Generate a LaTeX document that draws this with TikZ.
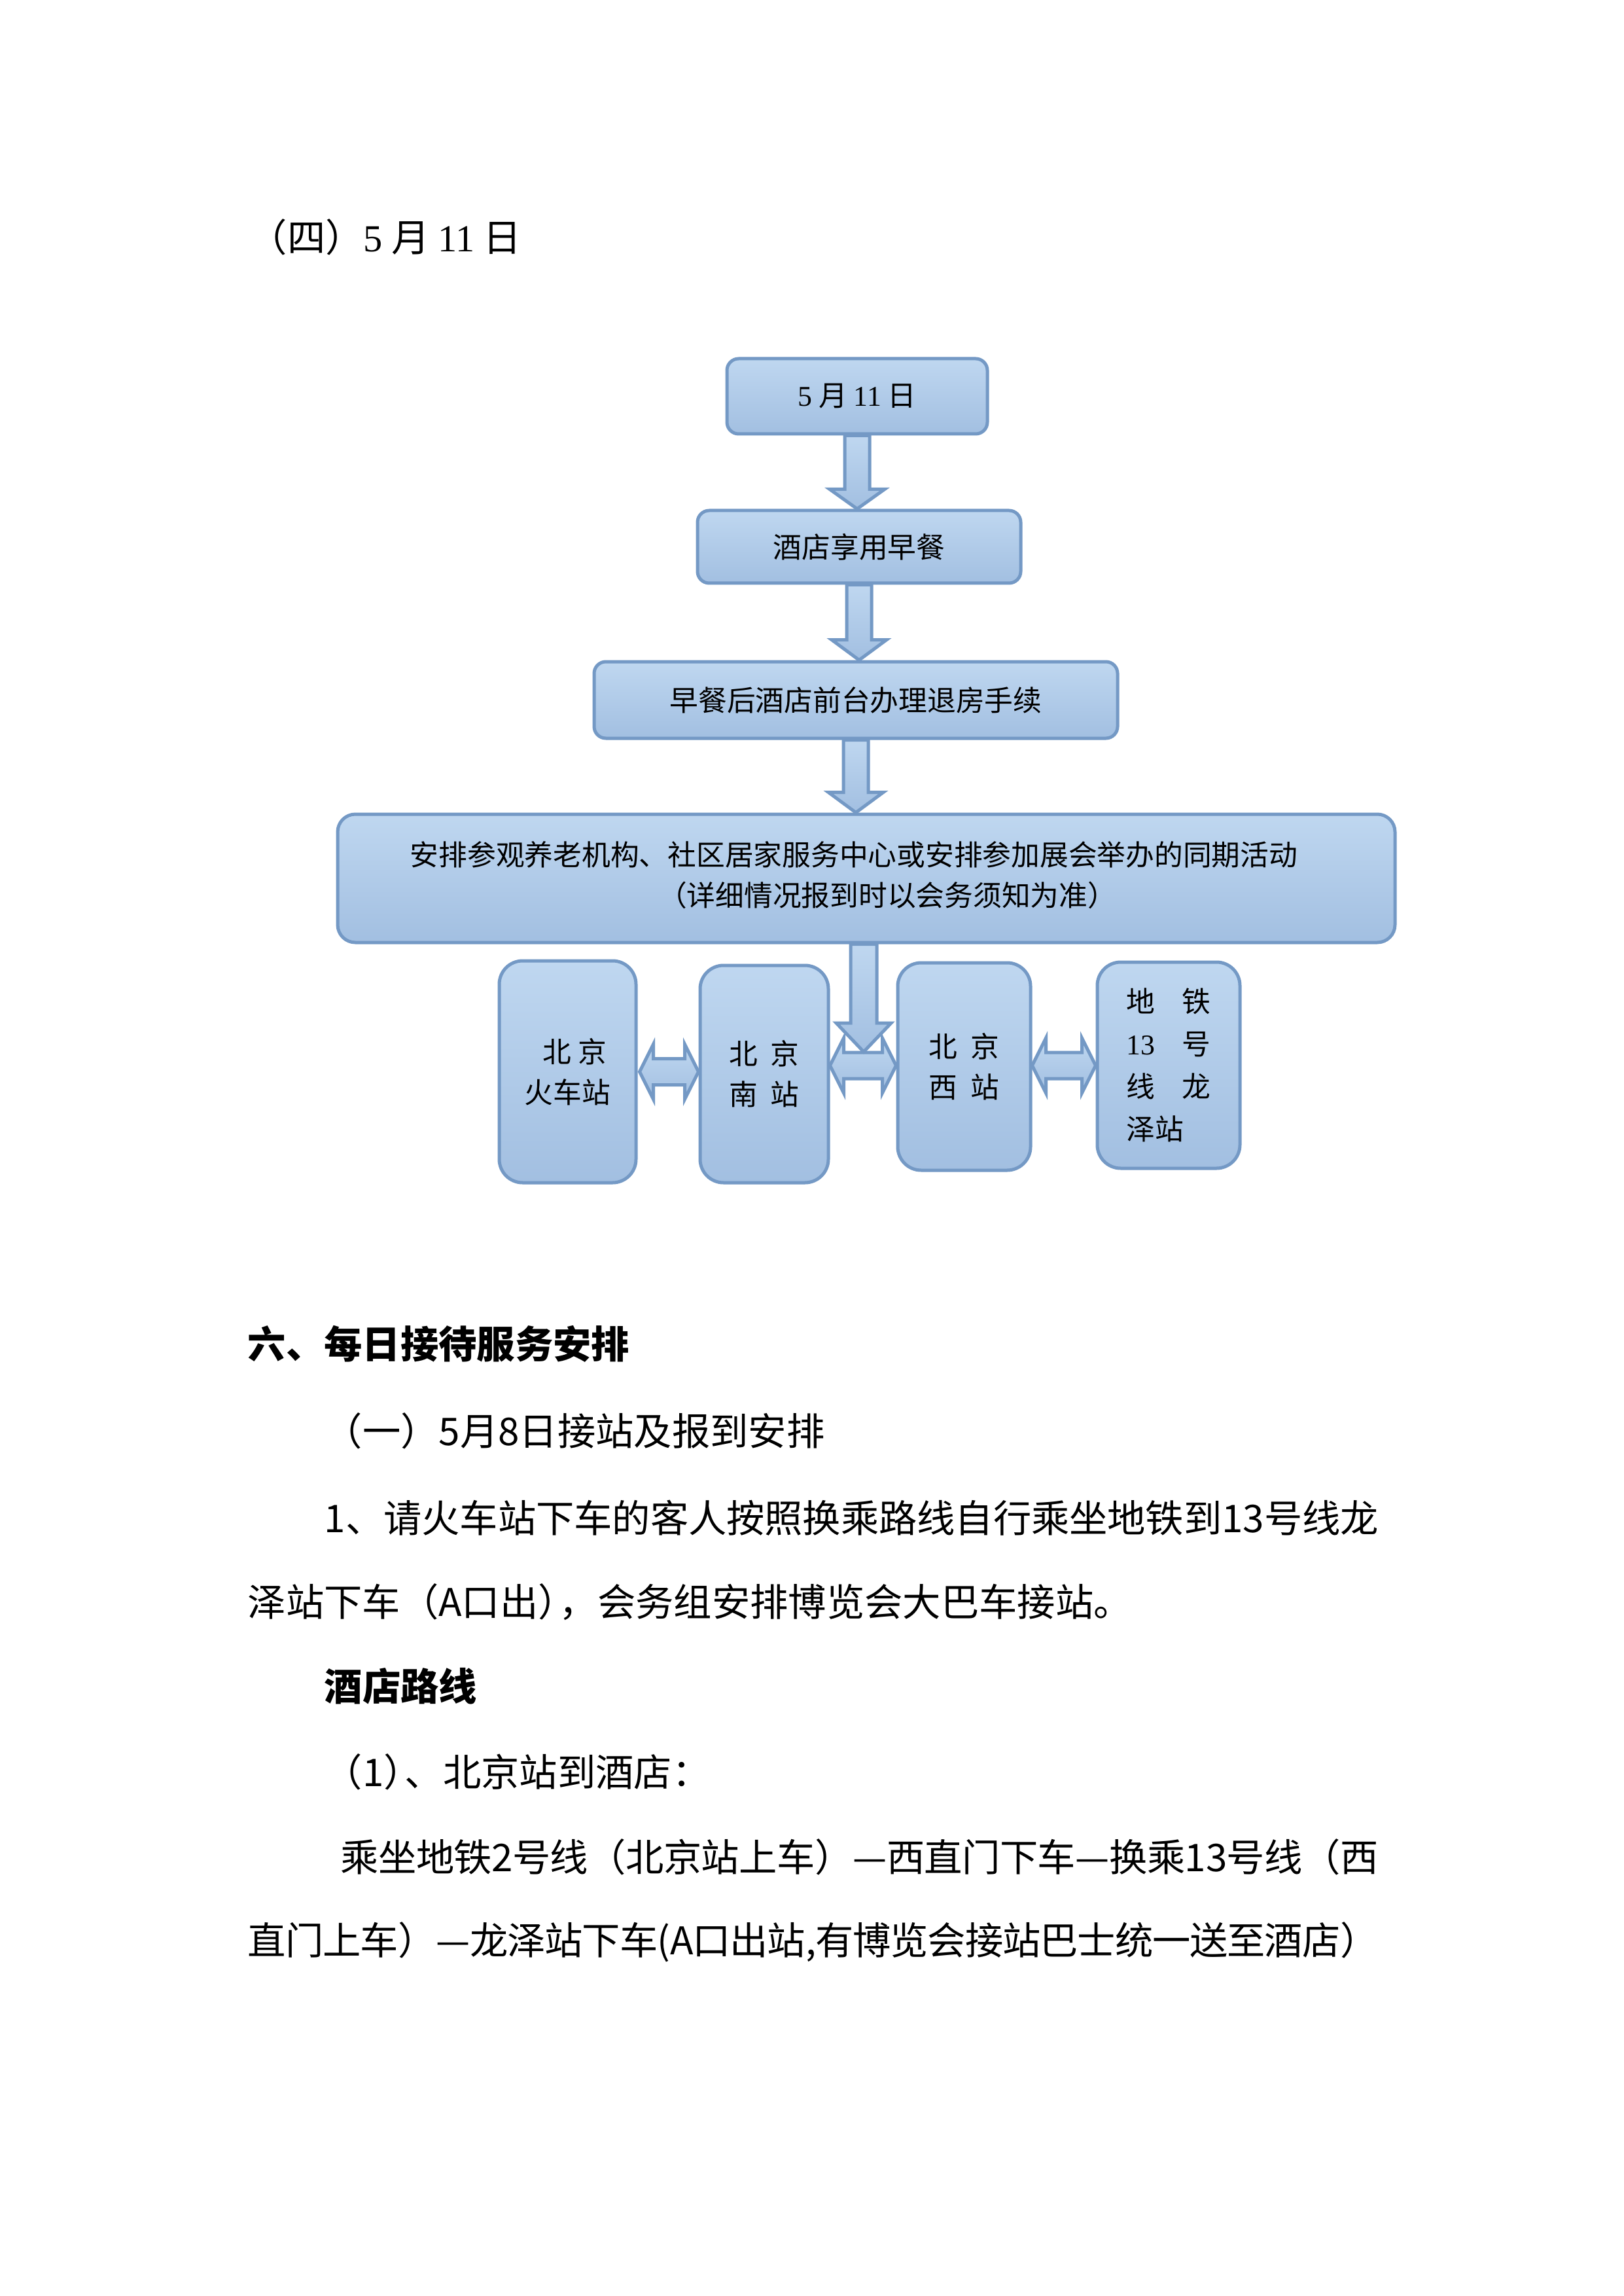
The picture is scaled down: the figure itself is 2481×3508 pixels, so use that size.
\documentclass[tikz,border=0pt]{standalone}
\usepackage{fontspec}
\setmainfont{Noto Sans CJK SC}
\newfontfamily\tnr{Liberation Serif}
\usetikzlibrary{calc}
\definecolor{bxtop}{RGB}{191,215,240}
\definecolor{bxbot}{RGB}{162,191,225}
\definecolor{bxline}{RGB}{116,153,197}
\newcommand\jline[2]{\parbox{\dimexpr 0.24pt*#1\relax}{\XeTeXlinebreaklocale "zh"\XeTeXlinebreakskip=0pt plus 3pt minus 1.5pt\parfillskip=0pt\noindent #2}}
\tikzset{
  fc/.style={draw=bxline, line width=1.2pt, top color=bxtop, bottom color=bxbot,
    rounded corners=#1, inner sep=0pt, align=center,
    font=\fontsize{10.5pt}{14.8pt}\selectfont},
  barrow/.style={draw=bxline, line width=1.2pt, top color=bxtop, bottom color=bxbot, line join=miter},
  body/.style={anchor=west, inner sep=0pt, font=\fontsize{14pt}{17pt}\selectfont},
  bodyb/.style={body, font=\fontsize{14pt}{17pt}\selectfont\bfseries},
  ftxt/.style={inner sep=0pt, font=\fontsize{10.5pt}{14.8pt}\selectfont}
}
\newcommand\blockdown[3]{%
  \draw[barrow] ($(#1)+(-19,0)$) -- ($(#2)+(-19,-#3)$) -- ($(#2)+(-42,-#3)$) -- (#2)
    -- ($(#2)+(42,-#3)$) -- ($(#2)+(19,-#3)$) -- ($(#1)+(19,0)$) -- cycle;}
\newcommand\dblarrow[2]{%
  \draw[barrow] (#1) -- ($(#1)+(21,-42)$) -- ($(#1)+(21,-20)$) -- ($(#2)+(-21,-20)$)
    -- ($(#2)+(-21,-42)$) -- (#2) -- ($(#2)+(-21,42)$) -- ($(#2)+(-21,20)$)
    -- ($(#1)+(21,20)$) -- ($(#1)+(21,42)$) -- cycle;}
\begin{document}
\begin{tikzpicture}[x=0.24pt,y=-0.24pt]
\fill[white] (0,0) rectangle (2481,3508);
\useasboundingbox (0,0) rectangle (2481,3508);

% title
\node[body] (title) at (380,362) {（四）{\tnr 5} 月 {\tnr 11} 日};

% flow boxes
\node[fc=4.3pt, minimum width=398*0.24pt, minimum height=115*0.24pt] (b1) at (1310,605.5) {{\tnr 5} 月 {\tnr 11} 日};
\node[fc=4.3pt, minimum width=494*0.24pt, minimum height=111*0.24pt] (b2) at (1313,835.5) {酒店享用早餐};
\node[fc=4.3pt, minimum width=800*0.24pt, minimum height=117*0.24pt] (b3) at (1308,1069.5) {早餐后酒店前台办理退房手续};
\node[fc=6.5pt, minimum width=1616*0.24pt, minimum height=196*0.24pt] (b4) at (1324,1342) {};
\node[ftxt, anchor=west] (t4a) at (626,1306) {安排参观养老机构、社区居家服务中心或安排参加展会举办的同期活动};
\node[ftxt] (t4b) at (1356,1368) {（详细情况报到时以会务须知为准）};

% station boxes
\node[fc=8.6pt, minimum width=209*0.24pt, minimum height=339*0.24pt] (sA) at (867.5,1637.5) {\hspace{0.5em}北\hspace{0.25em}京\\火车站};
\node[fc=8.6pt, minimum width=196*0.24pt, minimum height=332*0.24pt] (sB) at (1168,1641) {北\hspace{0.45em}京\\南\hspace{0.45em}站};
\node[fc=8.6pt, minimum width=203*0.24pt, minimum height=317*0.24pt] (sC) at (1473.5,1629.5) {北\hspace{0.45em}京\\西\hspace{0.45em}站};
\node[fc=8.6pt, minimum width=218*0.24pt, minimum height=315*0.24pt, align=left,
  font=\fontsize{10.5pt}{15.6pt}\selectfont] (sD) at (1786,1627.5)
  {地\hspace{0.95em}铁\\{\tnr 13}\hspace{0.95em}号\\线\hspace{0.95em}龙\\泽站};

% down arrows
\blockdown{b1.south}{b1.south |- b2.north}{30}
\blockdown{b2.south}{b2.south |- b3.north}{31}
\blockdown{b3.south}{b3.south |- b4.north}{31}

% double arrows
\coordinate (yBC) at (0,1628);
\dblarrow{$(sA.east)+(3,0)$}{sB.west |- sA.east}
\dblarrow{sB.east |- yBC}{sC.west |- yBC}
\dblarrow{sC.east |- yBC}{sD.west |- yBC}

% arrow from b4 down
\coordinate (tip4) at (1320,1607);
\coordinate (top4) at (b4.south -| tip4);
\draw[barrow] ($(top4)+(-20,0)$) -- ($(tip4)+(-20,-44)$) -- ($(tip4)+(-42,-44)$) -- (tip4)
    -- ($(tip4)+(42,-44)$) -- ($(tip4)+(20,-44)$) -- ($(top4)+(20,0)$) -- cycle;

% body text
\node[bodyb] (h6) at (378,2053) {六、每日接待服务安排};
\node[body] (s1) at (495,2186) {（一）5月8日接站及报到安排};
\node[body] (p1a) at (495,2319) {\jline{1611}{1、请火车站下车的客人按照换乘路线自行乘坐地铁到13号线龙}};
\node[body] (p1b) at (378,2448) {泽站下车（A口出）\kern-0.45em，会务组安排博览会大巴车接站。};
\node[bodyb] (h7) at (495,2576) {酒店路线};
\node[body] (s2) at (495,2707) {（1）\kern-0.45em、北京站到酒店：};
\node[body] (p2a) at (520,2837) {\jline{1586}{乘坐地铁2号线（北京站上车）—西直门下车—换乘13号线（西}};
\node[body] (p2b) at (378,2967) {\jline{1728}{直门上车）—龙泽站下车(A口出站,有博览会接站巴士统一送至酒店）}};
\end{tikzpicture}
\end{document}
